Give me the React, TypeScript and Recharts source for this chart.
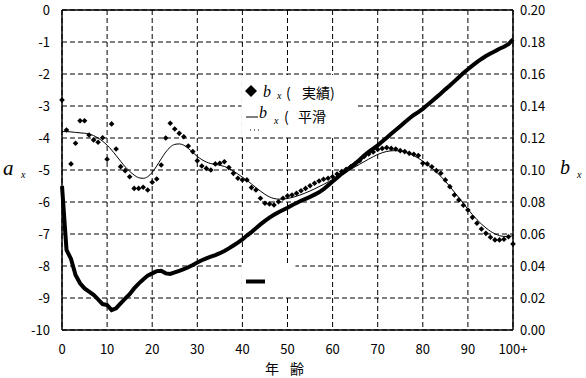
import React from "react";
import { LineChart, Line, XAxis, YAxis, CartesianGrid, ReferenceLine } from "recharts";

const ages = [
  0, 1, 2, 3, 4, 5, 6, 7, 8, 9, 10, 11, 12, 13, 14, 15, 16, 17, 18, 19, 20,
  21, 22, 23, 24, 25, 26, 27, 28, 29, 30, 31, 32, 33, 34, 35, 36, 37, 38, 39, 40,
  41, 42, 43, 44, 45, 46, 47, 48, 49, 50, 51, 52, 53, 54, 55, 56, 57, 58, 59, 60,
  61, 62, 63, 64, 65, 66, 67, 68, 69, 70, 71, 72, 73, 74, 75, 76, 77, 78, 79, 80,
  81, 82, 83, 84, 85, 86, 87, 88, 89, 90, 91, 92, 93, 94, 95, 96, 97, 98, 99, 100,
];

const ax = [
  -5.5, -7.5, -7.78, -8.28, -8.54, -8.7, -8.8, -8.9, -9.04, -9.19, -9.22,
  -9.38, -9.32, -9.17, -9.02, -8.88, -8.7, -8.55, -8.42, -8.3, -8.23,
  -8.16, -8.15, -8.23, -8.25, -8.2, -8.15, -8.1, -8.04, -7.97, -7.89,
  -7.82, -7.76, -7.71, -7.66, -7.6, -7.53, -7.45, -7.36, -7.27, -7.17,
  -7.05, -6.94, -6.82, -6.7, -6.59, -6.49, -6.4, -6.32, -6.25, -6.18,
  -6.1, -6.03, -5.96, -5.9, -5.84, -5.77, -5.7, -5.6, -5.48, -5.36,
  -5.24, -5.12, -5.02, -4.91, -4.8, -4.68, -4.55, -4.43, -4.33, -4.23,
  -4.11, -3.99, -3.87, -3.75, -3.63, -3.51, -3.39, -3.28, -3.19, -3.09,
  -2.97, -2.85, -2.73, -2.61, -2.48, -2.36, -2.23, -2.1, -1.97, -1.85,
  -1.74, -1.63, -1.53, -1.44, -1.36, -1.29, -1.21, -1.15, -1.07, -0.92,
];

const bxActual = [
  0.1438, 0.125, 0.1038, 0.1167, 0.1308, 0.1308, 0.1219, 0.1188, 0.1173, 0.1202, 0.1067,
  0.1288, 0.1131, 0.1021, 0.0996, 0.0958, 0.0885, 0.0885, 0.0892, 0.0875, 0.0923,
  0.0944, 0.1031, 0.12, 0.1292, 0.1256, 0.1229, 0.1208, 0.115, 0.1115, 0.1058,
  0.1025, 0.101, 0.1, 0.1038, 0.1042, 0.1052, 0.1015, 0.0979, 0.0948, 0.0938,
  0.0938, 0.089, 0.0875, 0.0823, 0.0792, 0.0788, 0.0781, 0.0802, 0.0823, 0.0838,
  0.0844, 0.0854, 0.087, 0.0885, 0.0902, 0.0917, 0.0931, 0.0942, 0.0948, 0.0958,
  0.0975, 0.099, 0.1005, 0.102, 0.1038, 0.1058, 0.1085, 0.11, 0.1113, 0.1128,
  0.1135, 0.114, 0.1135, 0.1131, 0.1121, 0.1115, 0.1104, 0.1098, 0.109, 0.1042,
  0.1038, 0.102, 0.0996, 0.098, 0.0938, 0.0896, 0.0844, 0.0813, 0.078, 0.075,
  0.0704, 0.0667, 0.0631, 0.0604, 0.058, 0.0563, 0.0563, 0.0567, 0.0583, 0.0538,
];

const bxSmooth = [
  0.124, 0.124, 0.1238, 0.1235, 0.1232, 0.123, 0.1225, 0.1215, 0.12, 0.118, 0.1155,
  0.1125, 0.109, 0.1055, 0.102, 0.0992, 0.0968, 0.0952, 0.0948, 0.0958, 0.0985,
  0.1025, 0.107, 0.1112, 0.1143, 0.116, 0.1163, 0.1155, 0.1135, 0.111, 0.1085,
  0.1065, 0.105, 0.104, 0.1035, 0.103, 0.1022, 0.101, 0.0993, 0.0975, 0.0955,
  0.0935, 0.0913, 0.089, 0.0868, 0.0848, 0.0832, 0.0822, 0.0818, 0.0818, 0.0822,
  0.0828, 0.0836, 0.0846, 0.0857, 0.0869, 0.0882, 0.0896, 0.091, 0.0925, 0.094,
  0.0956, 0.0972, 0.0988, 0.1004, 0.102, 0.1036, 0.1052, 0.1068, 0.1083, 0.1097,
  0.1108, 0.1116, 0.112, 0.1121, 0.1118, 0.1112, 0.1103, 0.109, 0.1074, 0.1055,
  0.1035, 0.1013, 0.0988, 0.096, 0.093, 0.0897, 0.0862, 0.0827, 0.0791, 0.0755,
  0.0721, 0.069, 0.0662, 0.0638, 0.0617, 0.0601, 0.059, 0.0585, 0.0585, 0.059,
];

const xTicks = [0, 10, 20, 30, 40, 50, 60, 70, 80, 90, 100];
const xTickLabels = ["0", "10", "20", "30", "40", "50", "60", "70", "80", "90", "100+"];
const leftTicks = [-10, -9, -8, -7, -6, -5, -4, -3, -2, -1, 0];
const rightTicks = [0, 0.02, 0.04, 0.06, 0.08, 0.1, 0.12, 0.14, 0.16, 0.18, 0.2];

const data = ages.map((age, i) => ({
  age,
  a: ax[i],
  bAct: bxActual[i],
  bSm: bxSmooth[i],
}));

const FONT = "'Noto Sans CJK JP', sans-serif";
const SERIF = "'Liberation Serif', serif";
const tickStyle = { fontSize: 13, fill: "#000", fontFamily: FONT };

const Diamond = (props: any) => {
  const { cx, cy, index } = props;
  if (cx == null || cy == null) return <g key={`d${index}`} />;
  const r = 2.8;
  return (
    <path
      key={`d${index}`}
      d={`M${cx},${cy - r}L${cx + r},${cy}L${cx},${cy + r}L${cx - r},${cy}Z`}
      fill="#000"
      stroke="none"
    />
  );
};

export default function App() {
  return (
    <div style={{ position: "absolute", left: 0, top: 0, width: 586, height: 378, background: "#fff" }}>
      <LineChart width={586} height={378} data={data} margin={{ top: 10, right: 0, bottom: 0, left: 0 }}>
        <CartesianGrid
          yAxisId="left"
          stroke="#000"
          strokeDasharray="5 3"
          horizontalValues={leftTicks}
          verticalValues={xTicks}
        />
        <XAxis
          dataKey="age"
          type="number"
          domain={[0, 100]}
          ticks={xTicks}
          tickFormatter={(v: number) => xTickLabels[xTicks.indexOf(v)]}
          height={48}
          tickLine={false}
          tickMargin={9}
          axisLine={{ stroke: "#000", strokeWidth: 1.5 }}
          tick={tickStyle}
          interval={0}
        />
        <YAxis
          yAxisId="left"
          domain={[-10, 0]}
          ticks={leftTicks}
          width={62}
          tickLine={false}
          tickMargin={6}
          axisLine={{ stroke: "#000", strokeWidth: 1.5 }}
          tick={tickStyle}
          interval={0}
        />
        <YAxis
          yAxisId="right"
          orientation="right"
          domain={[0, 0.2]}
          ticks={rightTicks}
          tickFormatter={(v: number) => v.toFixed(2)}
          width={73}
          tickLine={false}
          tickMargin={1}
          axisLine={{ stroke: "#000", strokeWidth: 1.5 }}
          tick={{ ...tickStyle, textAnchor: "start" }}
          interval={0}
        />
        <ReferenceLine yAxisId="left" y={0} stroke="#000" strokeWidth={1.5} />
        <Line
          yAxisId="left"
          dataKey="a"
          type="linear"
          stroke="#000"
          strokeWidth={4}
          dot={false}
          activeDot={false}
          isAnimationActive={false}
        />
        <Line
          yAxisId="right"
          dataKey="bSm"
          type="monotone"
          stroke="#000"
          strokeWidth={1}
          dot={false}
          activeDot={false}
          isAnimationActive={false}
        />
        <Line
          yAxisId="right"
          dataKey="bAct"
          type="linear"
          stroke="none"
          strokeWidth={0}
          dot={Diamond}
          activeDot={false}
          isAnimationActive={false}
        />
      </LineChart>
      <svg
        width={586}
        height={378}
        style={{ position: "absolute", left: 0, top: 0, pointerEvents: "none" }}
      >
        <rect x={241.5} y={75} width={116} height={61} fill="#fff" />
        <rect x={241.5} y={264} width={54} height={33} fill="#fff" />
        {/* legend row 1 */}
        <path d="M251,85L257,91L251,97L245,91Z" fill="#000" />
        <text x={263} y={97} fontFamily={SERIF} fontStyle="italic" fontSize={16} fill="#000">b</text>
        <text x={277} y={99} fontFamily={SERIF} fontStyle="italic" fontSize={10} fill="#000">x</text>
        <text x={286} y={98} fontFamily={FONT} fontSize={14} fill="#000">(</text>
        <text x={302} y={98} fontFamily={FONT} fontSize={14} fill="#000">実績)</text>
        {/* legend row 2 */}
        <line x1={246} y1={117} x2={258} y2={117} stroke="#000" strokeWidth={1} />
        <text x={259} y={118} fontFamily={SERIF} fontStyle="italic" fontSize={16} fill="#000">b</text>
        <text x={274} y={124} fontFamily={SERIF} fontStyle="italic" fontSize={10} fill="#000">x</text>
        <text x={284} y={122} fontFamily={FONT} fontSize={14} fill="#000">(</text>
        <text x={298} y={122} fontFamily={FONT} fontSize={14} fill="#000">平滑</text>
        <line x1={250} y1={130} x2={262} y2={130} stroke="#000" strokeWidth={1} strokeDasharray="1 3" />
        {/* a_x legend marker */}
        <line x1={246} y1={281.5} x2={265} y2={281.5} stroke="#000" strokeWidth={4} />
        {/* axis titles */}
        <text x={3} y={175} fontFamily={SERIF} fontStyle="italic" fontSize={21} fill="#000">a</text>
        <text x={21} y={178} fontFamily={SERIF} fontStyle="italic" fontSize={10} fill="#000">x</text>
        <text x={560} y={174} fontFamily={SERIF} fontStyle="italic" fontSize={20} fill="#000">b</text>
        <text x={577} y={178} fontFamily={SERIF} fontStyle="italic" fontSize={10} fill="#000">x</text>
        <text x={265} y={374} fontFamily={FONT} fontSize={14} fill="#000">年</text>
        <text x={290} y={374} fontFamily={FONT} fontSize={14} fill="#000">齢</text>
      </svg>
    </div>
  );
}
